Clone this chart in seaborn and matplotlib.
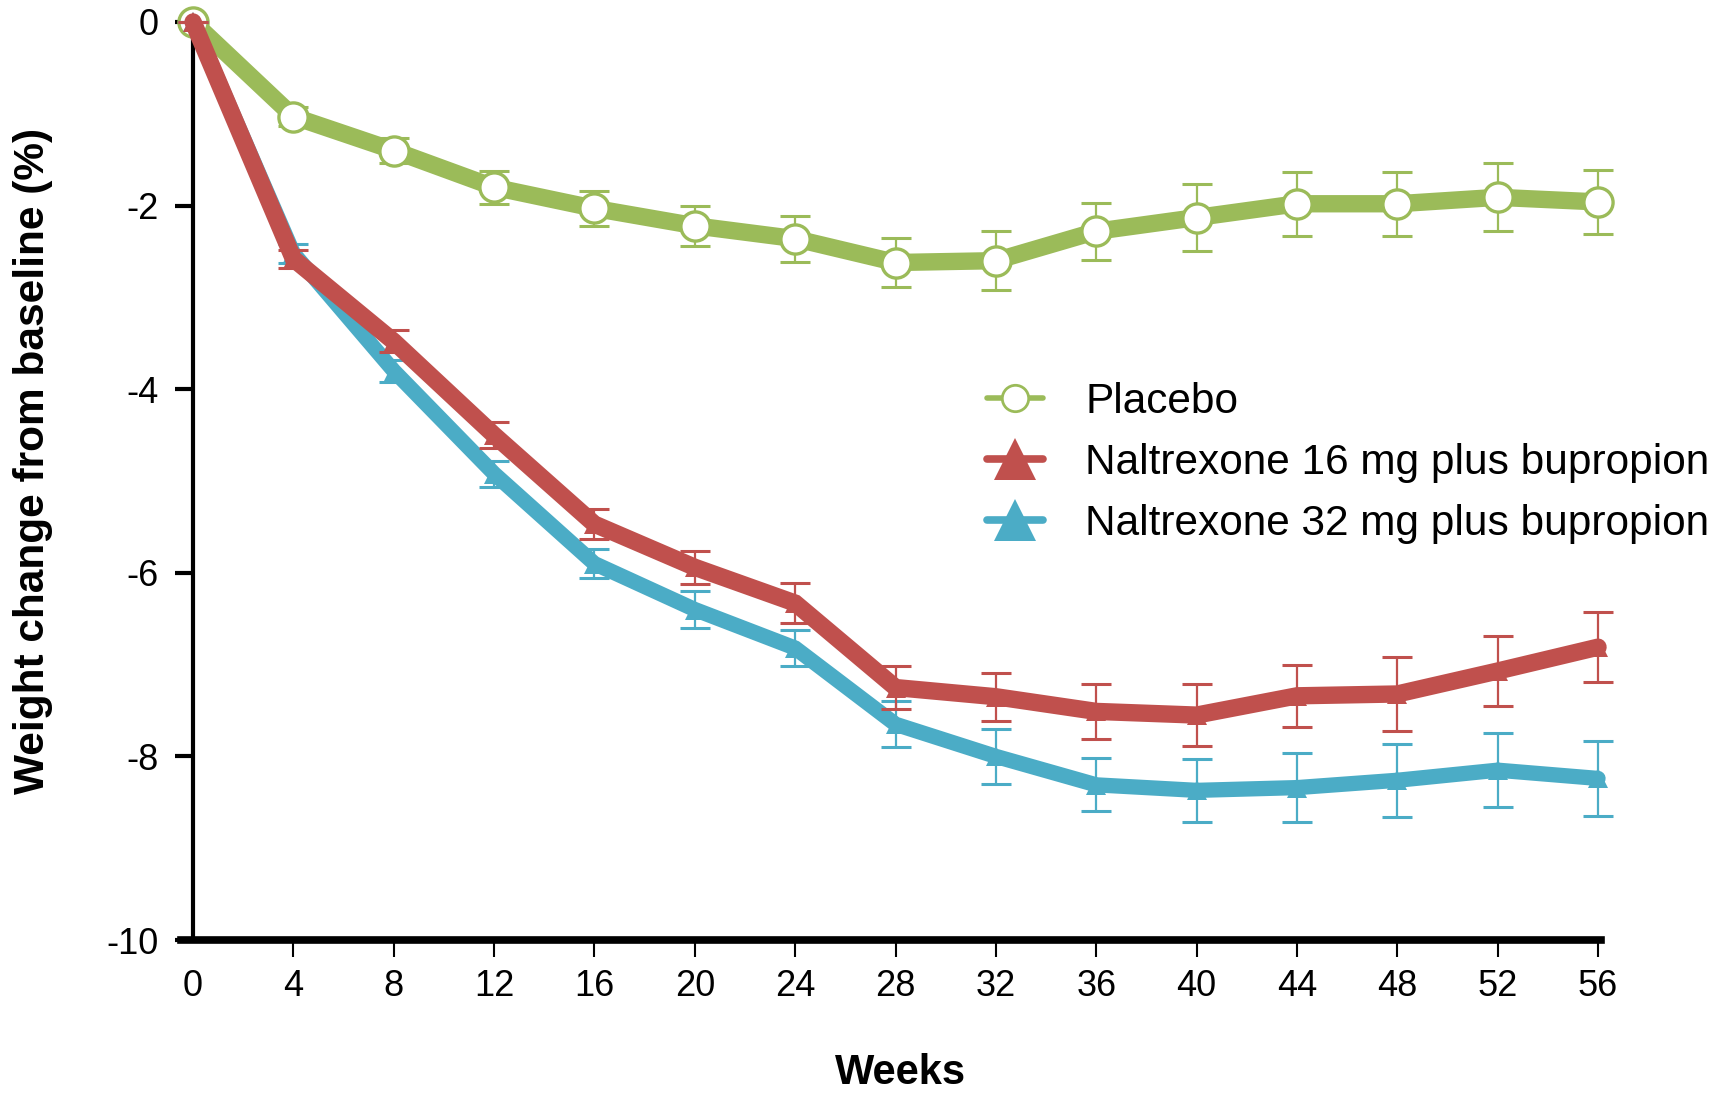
import matplotlib
matplotlib.use("Agg")
import matplotlib.pyplot as plt
from matplotlib.lines import Line2D
import pandas as pd
import seaborn as sns

# Mean percent weight change from baseline and its standard error, by study week
weeks = [0, 4, 8, 12, 16, 20, 24, 28, 32, 36, 40, 44, 48, 52, 56]
placebo_mean = [0, -1.03, -1.40, -1.80, -2.03, -2.22, -2.36, -2.62, -2.60, -2.28, -2.13, -1.98, -1.98, -1.91, -1.96]
placebo_se = [0, 0.10, 0.14, 0.18, 0.19, 0.22, 0.25, 0.27, 0.32, 0.31, 0.36, 0.35, 0.35, 0.37, 0.35]
nb16_mean = [0, -2.58, -3.48, -4.50, -5.47, -5.94, -6.33, -7.25, -7.35, -7.51, -7.55, -7.34, -7.32, -7.07, -6.81]
nb16_se = [0, 0.10, 0.12, 0.14, 0.16, 0.18, 0.22, 0.23, 0.26, 0.30, 0.34, 0.34, 0.40, 0.38, 0.38]
nb32_mean = [0, -2.52, -3.80, -4.92, -5.90, -6.40, -6.82, -7.65, -8.00, -8.31, -8.37, -8.34, -8.26, -8.15, -8.24]
nb32_se = [0, 0.10, 0.12, 0.14, 0.16, 0.20, 0.20, 0.25, 0.30, 0.29, 0.34, 0.38, 0.40, 0.40, 0.41]

series_labels = ["Placebo", "Naltrexone 16 mg plus bupropion", "Naltrexone 32 mg plus bupropion"]
x_ticks = [0, 4, 8, 12, 16, 20, 24, 28, 32, 36, 40, 44, 48, 52, 56]
y_ticks = [0, -2, -4, -6, -8, -10]

GREEN = "#9BBB59"
RED = "#C0504D"
BLUE = "#4BACC6"

sns.set_theme(style="ticks")
plt.rcParams["font.family"] = ["Liberation Sans", "DejaVu Sans"]
plt.rcParams["axes.edgecolor"] = "black"
plt.rcParams["axes.labelcolor"] = "black"
plt.rcParams["text.color"] = "black"
plt.rcParams["xtick.color"] = "black"
plt.rcParams["ytick.color"] = "black"
plt.rcParams["xtick.labelcolor"] = "black"
plt.rcParams["ytick.labelcolor"] = "black"

fig = plt.figure(figsize=(17.29, 10.93), dpi=100)
ax = fig.add_axes([0.1044, 0.13998, 0.8213, 0.8399])

df = pd.DataFrame({
    "week": weeks * 3,
    "change": placebo_mean + nb16_mean + nb32_mean,
    "se": placebo_se + nb16_se + nb32_se,
    "group": [series_labels[0]] * len(weeks) + [series_labels[1]] * len(weeks) + [series_labels[2]] * len(weeks),
})

styles = {
    series_labels[0]: dict(color=GREEN, lw=12.5, marker="o", ms=21, mfc="white", mec=GREEN, mew=2.4, z=2),
    series_labels[2]: dict(color=BLUE, lw=11, marker="^", ms=15, mfc=BLUE, mec=BLUE, mew=0, z=4),
    series_labels[1]: dict(color=RED, lw=12.5, marker="^", ms=15, mfc=RED, mec=RED, mew=0, z=6),
}

for name, st in styles.items():
    sub = df[df["group"] == name]
    ax.errorbar(sub["week"], sub["change"], yerr=sub["se"], fmt="none",
                ecolor=st["color"], elinewidth=1.6, capsize=10.5, capthick=2.2,
                zorder=st["z"] - 1, clip_on=False)
    sns.lineplot(data=sub, x="week", y="change", ax=ax, color=st["color"],
                 lw=st["lw"], marker=st["marker"], markersize=st["ms"],
                 markerfacecolor=st["mfc"], markeredgecolor=st["mec"],
                 markeredgewidth=st["mew"], errorbar=None, sort=False,
                 zorder=st["z"], clip_on=False, legend=False,
                 solid_joinstyle="miter")

ax.set_xlim(-0.5, 56.1)
ax.set_ylim(-10, 0)
ax.set_xticks(x_ticks)
ax.set_xticklabels([str(t) for t in x_ticks])
ax.set_yticks(y_ticks)
ax.set_yticklabels([str(t) for t in y_ticks])

for side in ("top", "right"):
    ax.spines[side].set_visible(False)
ax.spines["left"].set_position(("data", 0))
ax.spines["left"].set_linewidth(3)
ax.spines["bottom"].set_linewidth(5.5)

ax.tick_params(axis="x", direction="out", length=12, width=1.5, labelsize=26, pad=9,
               colors="black")
ax.tick_params(axis="y", direction="out", length=13, width=3, labelsize=26, pad=12,
               colors="black")
ax.xaxis.get_major_ticks()[0].tick1line.set_visible(False)

ax.set_xlabel("Weeks", fontsize=30, fontweight="bold", color="black")
ax.xaxis.set_label_coords(0.5067, -0.1235)
ax.set_ylabel("Weight change from baseline (%)", fontsize=30.5, fontweight="bold",
              color="black")
ax.yaxis.set_label_coords(-0.0898, 0.5218)

handles = [
    Line2D([], [], color=GREEN, lw=4, marker="o", ms=19, mfc="white", mec=GREEN, mew=2),
    Line2D([], [], color=RED, lw=5.5, marker="^", ms=30, mfc=RED, mec=RED, mew=0),
    Line2D([], [], color=BLUE, lw=5.5, marker="^", ms=30, mfc=BLUE, mec=BLUE, mew=0),
]
leg = ax.legend(handles, series_labels, loc="upper left", bbox_to_anchor=(0.5709, 0.6505),
                bbox_transform=fig.transFigure, frameon=False, fontsize=30.5,
                borderaxespad=0, borderpad=0, handlelength=1.32, handletextpad=1.0,
                labelspacing=0.49)
for t in leg.get_texts():
    t.set_color("black")

fig.savefig("out.png", dpi=100)
